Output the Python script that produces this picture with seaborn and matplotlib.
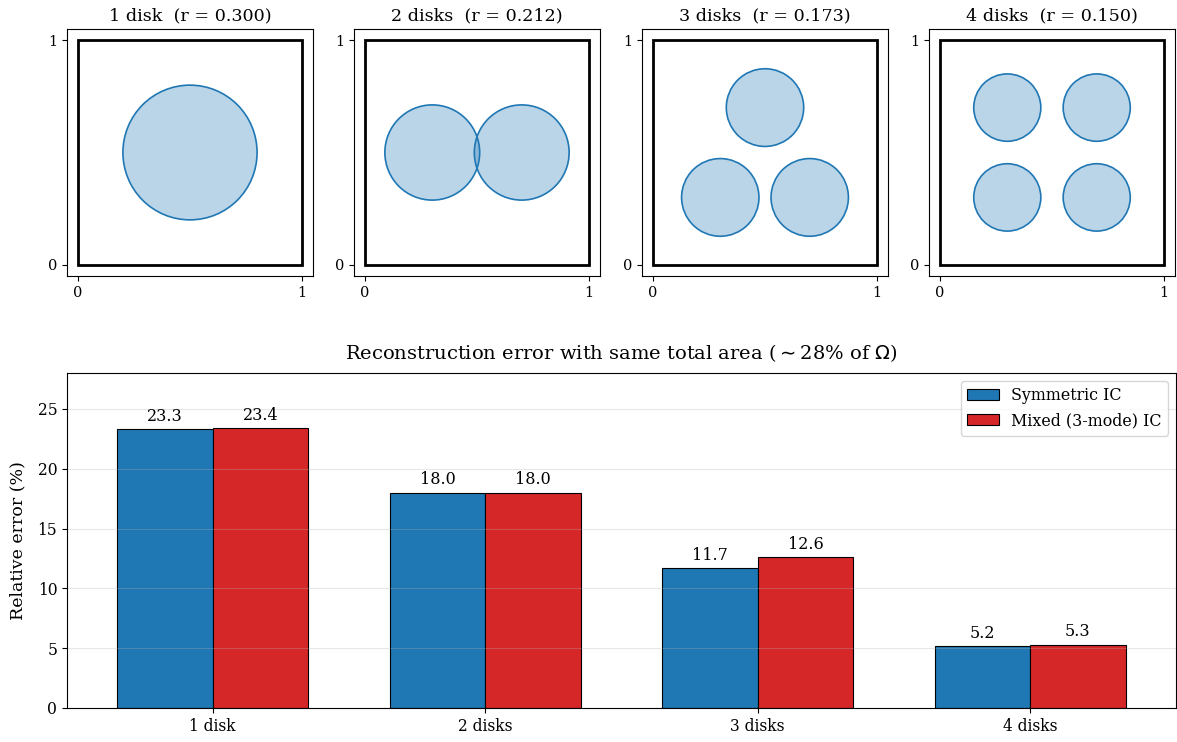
import numpy as np
import pandas as pd
import matplotlib
matplotlib.use("Agg")
import matplotlib.pyplot as plt
from matplotlib.patches import Circle, Rectangle
import seaborn as sns

# Disk layouts inside the unit square
layout_titles = ["1 disk", "2 disks", "3 disks", "4 disks"]
radii = [0.300, 0.212, 0.173, 0.150]
centers_1 = [(0.5, 0.5)]
centers_2 = [(0.3, 0.5), (0.7, 0.5)]
centers_3 = [(0.5, 0.7), (0.3, 0.3), (0.7, 0.3)]
centers_4 = [(0.3, 0.3), (0.7, 0.3), (0.3, 0.7), (0.7, 0.7)]
all_centers = [centers_1, centers_2, centers_3, centers_4]

# Reconstruction errors (%)
categories = ["1 disk", "2 disks", "3 disks", "4 disks"]
symmetric_err = [23.3, 18.0, 11.7, 5.2]
mixed_err = [23.4, 18.0, 12.6, 5.3]
series_names = ["Symmetric IC", "Mixed (3-mode) IC"]

plt.rcParams["font.family"] = "DejaVu Serif"
plt.rcParams["axes.axisbelow"] = "line"

W, H = 1177, 742
fig = plt.figure(figsize=(W / 100, H / 100), dpi=100)

def px_axes(x0, y0, x1, y1):
    return fig.add_axes([x0 / W, 1 - y1 / H, (x1 - x0) / W, (y1 - y0) / H])

blue = "#1f77b4"
red = "#d62728"

top_lefts = [67, 354, 642, 929]
for i, left in enumerate(top_lefts):
    ax = px_axes(left, 29, left + 246, 276)
    ax.add_patch(Rectangle((0, 0), 1, 1, fill=False, edgecolor="black", lw=2))
    for c in all_centers[i]:
        ax.add_patch(Circle(c, radii[i], facecolor=(0.1216, 0.4667, 0.7059, 0.3),
                            edgecolor=blue, lw=1.2))
    ax.set_xlim(-0.05, 1.05)
    ax.set_ylim(-0.05, 1.05)
    ax.set_xticks([0, 1])
    ax.set_yticks([0, 1])
    ax.tick_params(labelsize=10.5)
    ax.set_title(f"{layout_titles[i]}  (r = {radii[i]:.3f})", fontsize=12.6)

# Error comparison bar chart
df = pd.DataFrame({
    "layout": categories * 2,
    "error": symmetric_err + mixed_err,
    "ic": [series_names[0]] * 4 + [series_names[1]] * 4,
})

ax = px_axes(67, 373, 1176, 708)
sns.barplot(data=df, x="layout", y="error", hue="ic", hue_order=series_names,
            palette=[blue, red], saturation=1, width=0.7, edgecolor="black",
            linewidth=0.8, ax=ax, errorbar=None)
for cont in ax.containers:
    ax.bar_label(cont, fmt="%.1f", padding=3, fontsize=11.5)
ax.set_xlim(-0.535, 3.535)
ax.set_ylim(0, 28)
ax.set_xlabel("")
ax.set_ylabel("Relative error (%)", fontsize=12.5, labelpad=8)
ax.tick_params(labelsize=11.2)
ax.grid(axis="y", alpha=0.3)
ax.set_title(r"Reconstruction error with same total area ($\sim$28% of $\Omega$)",
             fontsize=14, pad=10)
leg = ax.legend(loc="upper right", fontsize=11.4, title=None)

fig.savefig("out.png", dpi=100)
